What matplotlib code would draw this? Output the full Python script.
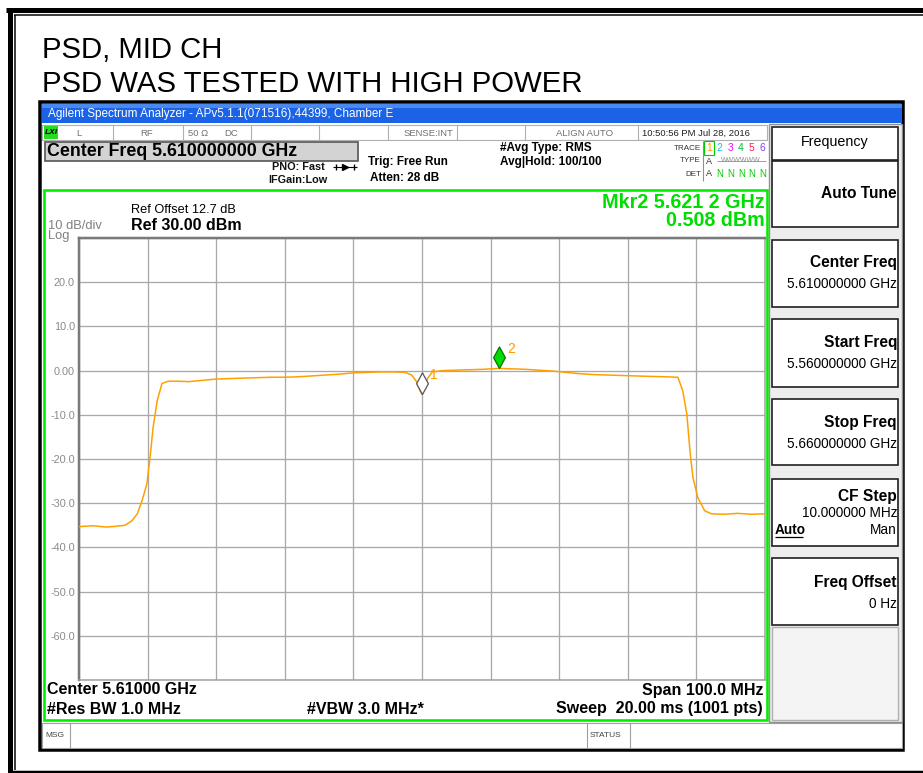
import matplotlib
matplotlib.use("Agg")
import matplotlib.pyplot as plt
from matplotlib.patches import Rectangle
from matplotlib.path import Path
from matplotlib.markers import MarkerStyle

# ---------------- data ----------------
freq_ghz = [5.5600, 5.5620, 5.5640, 5.5655, 5.5667, 5.5677, 5.5685, 5.5692, 5.5699,
            5.5704, 5.5708, 5.5714, 5.5721, 5.5730, 5.5745, 5.5760, 5.5780, 5.5800,
            5.5820, 5.5840, 5.5860, 5.5880, 5.5900, 5.5920, 5.5940, 5.5960, 5.5980,
            5.6000, 5.6020, 5.6040, 5.6060, 5.6075, 5.6085, 5.6092, 5.6097, 5.6100,
            5.6103, 5.6108, 5.6115, 5.6130, 5.6150, 5.6170, 5.6190, 5.6212, 5.6230,
            5.6250, 5.6270, 5.6290, 5.6310, 5.6330, 5.6350, 5.6370, 5.6390, 5.6410,
            5.6430, 5.6455, 5.6473, 5.6480, 5.6486, 5.6491, 5.6495, 5.6502, 5.6512,
            5.6522, 5.6540, 5.6560, 5.6580, 5.6600]
level_dbm = [-35.3, -35.1, -35.4, -35.2, -35.0, -34.0, -32.4, -29.4, -25.6,
             -19.0, -12.9, -6.8, -2.9, -2.4, -2.4, -2.5, -2.2, -1.9,
             -1.8, -1.7, -1.6, -1.5, -1.5, -1.4, -1.2, -1.0, -0.8,
             -0.5, -0.4, -0.3, -0.3, -0.4, -1.0, -2.5, -4.5, -5.4,
             -4.2, -1.8, -0.3, 0.0, 0.1, 0.2, 0.3, 0.5, 0.4,
             0.3, 0.1, -0.1, -0.4, -0.7, -0.9, -1.0, -1.1, -1.2,
             -1.3, -1.4, -1.5, -4.5, -9.8, -18.8, -24.2, -28.7, -31.7,
             -32.4, -32.5, -32.3, -32.5, -32.4]

marker_freq = [5.6100, 5.6212]
marker_level = [-5.4, 0.508]
marker_names = ["1", "2"]

y_ticks = [20, 10, 0, -10, -20, -30, -40, -50, -60]
y_tick_labels = ["20.0", "10.0", "0.00", "-10.0", "-20.0", "-30.0", "-40.0", "-50.0", "-60.0"]
x_grid = [5.56, 5.57, 5.58, 5.59, 5.60, 5.61, 5.62, 5.63, 5.64, 5.65, 5.66]
y_grid = [30, 20, 10, 0, -10, -20, -30, -40, -50, -60, -70]

softkeys = [("Auto Tune", ""), ("Center Freq", "5.610000000 GHz"),
            ("Start Freq", "5.560000000 GHz"), ("Stop Freq", "5.660000000 GHz"),
            ("CF Step", "10.000000 MHz"), ("Freq Offset", "0 Hz")]

# ---------------- figure ----------------
W, H = 923, 773
fig = plt.figure(figsize=(W / 100, H / 100), dpi=100)
plt.rcParams['font.family'] = ['Liberation Sans', 'DejaVu Sans']

bg = fig.add_axes([0, 0, 1, 1])
bg.set_xlim(0, W)
bg.set_ylim(H, 0)
bg.axis("off")

PT = 0.72  # px -> pt for linewidths


def T(x, y, s, size, weight="normal", ha="left", va="center", color="black", **kw):
    return bg.text(x, y, s, fontsize=size, fontweight=weight, ha=ha, va=va, color=color, **kw)


def R(x0, y0, x1, y1, fc="none", ec="black", lw=1.0, z=1):
    bg.add_patch(Rectangle((x0, y0), x1 - x0, y1 - y0, facecolor=fc, edgecolor=ec,
                           linewidth=lw, zorder=z))


def L(xs, ys, color="black", lw=1.0, z=2):
    bg.plot(xs, ys, color=color, lw=lw, zorder=z, solid_capstyle="butt")


# outer frame
L([6, W], [10, 10], lw=5 * PT)
L([10, 10], [8, 772], lw=5 * PT)
L([14, W], [15, 15], lw=1.5 * PT)
L([15, 15], [15, 770], lw=1.5 * PT)
L([8, W], [771.5, 771.5], lw=2.5 * PT)

# page title
T(42, 50, "PSD, MID CH", 21.2)
T(42, 84, "PSD WAS TESTED WITH HIGH POWER", 21.2)

# screenshot body
R(40, 102, 903, 750, fc="white", ec="black", lw=3.5 * PT, z=1)
# title bar
R(42, 104, 902, 123, fc="#1a62e6", ec="none", z=2)
R(42, 104, 902, 108, fc="#4a8af0", ec="none", z=2)
T(48, 114, "Agilent Spectrum Analyzer - APv5.1.1(071516),44399, Chamber E", 8.5,
  color="white", zorder=3)

# status row
R(42, 125, 767, 140, fc="white", ec="#b0b0b0", lw=0.8, z=2)
R(44, 126, 58, 139, fc="#22dd22", ec="none", z=3)
T(51, 133, "LXI", 6, weight="bold", ha="center", style="italic", zorder=4)
for xs in [113, 183, 251, 319, 388, 457, 525, 638]:
    L([xs, xs], [125, 140], color="#b0b0b0", lw=0.8, z=3)
for x, s, ha in [(79, "L", "center"), (147, "RF", "center"), (188, "50 \u03a9", "left"),
                 (224, "DC", "left"), (428, "SENSE:INT", "center"), (585, "ALIGN AUTO", "center"),
                 (642, "10:50:56 PM Jul 28, 2016", "left")]:
    T(x, 133, s, 6.8, ha=ha, color="#707070" if x < 640 else "#202020", zorder=4)

# center freq box
R(45, 142, 358, 161, fc="#d3d3d3", ec="#555555", lw=1.2, z=2)
T(47, 151.5, "Center Freq 5.610000000 GHz", 12.8, weight="bold", zorder=3)

T(325, 167, "PNO: Fast", 7.8, weight="bold", ha="right", color="#111111")
L([333, 357], [167, 167], lw=0.8, z=3)
bg.plot([345], [167], marker=">", ms=4, color="black", zorder=3)
bg.plot([336, 354], [167, 167], marker="|", ms=4, ls="none", color="black", zorder=3)
T(268, 180, "IFGain:Low", 7.8, weight="bold", color="#111111")
T(368, 162, "Trig: Free Run", 8.5, weight="bold")
T(370, 178, "Atten: 28 dB", 8.5, weight="bold")
T(500, 148, "#Avg Type: RMS", 8.5, weight="bold")
T(500, 162, "Avg|Hold: 100/100", 8.5, weight="bold")

# trace indicator
T(701, 148, "TRACE", 5.8, ha="right", color="#333333")
T(701, 161, "TYPE", 5.8, ha="right", color="#333333")
T(701, 174, "DET", 5.8, ha="right", color="#333333")
L([703, 703], [141, 181], color="#909090", lw=0.8, z=3)
trace_cols = ["#ff9900", "#00c8ff", "#ff00ff", "#00c040", "#ff2060", "#8040ff"]
for i, c in enumerate(trace_cols):
    T(709 + i * 10.6, 148, str(i + 1), 7.5, ha="center", color=c)
R(704, 141, 714, 155, ec="#00cc00", lw=0.8, z=3)
T(709, 161, "A", 6.5, ha="center", color="#333333")
T(741, 161, "WWWWWW", 5.0, ha="center", color="#909090")
L([717, 766], [161, 161], color="#909090", lw=0.6, z=4)
T(709, 174, "A", 6.5, ha="center", color="#333333")
for i in range(5):
    T(720 + i * 10.6, 174, "N", 7, ha="center", color="#00cc00")

# graph frame
R(44, 190, 767, 720, fc="white", ec="#00ee00", lw=2.6 * PT, z=2)
T(765, 202, "Mkr2 5.621 2 GHz", 14.2, weight="bold", ha="right", color="#00dd00", zorder=4)
T(765, 220, "0.508 dBm", 14.2, weight="bold", ha="right", color="#00dd00", zorder=4)
T(131, 210, "Ref Offset 12.7 dB", 9.2, zorder=4)
T(131, 225, "Ref 30.00 dBm", 11.5, weight="bold", zorder=4)
T(48, 226, "10 dB/div", 9.3, color="#808080", zorder=4)
T(48, 236.5, "Log", 9.3, color="#808080", zorder=4)

FS = 11.5
T(47, 690, "Center 5.61000 GHz", FS, weight="bold", zorder=4)
T(763, 690, "Span 100.0 MHz", FS, weight="bold", ha="right", zorder=4)
T(47, 709, "#Res BW 1.0 MHz", FS, weight="bold", zorder=4)
T(307, 709, "#VBW 3.0 MHz*", FS, weight="bold", zorder=4)
T(763, 709, "Sweep  20.00 ms (1001 pts)", FS, weight="bold", ha="right", zorder=4)

# msg row
R(42, 723, 902, 748, fc="white", ec="#a0a0a0", lw=0.8, z=2)
for xs in [70, 587, 630]:
    L([xs, xs], [723, 748], color="#a0a0a0", lw=0.8, z=3)
T(45, 735.5, "MSG", 6, color="#444444", zorder=4)
T(590, 735.5, "STATUS", 6, color="#444444", zorder=4)

# softkey panel
R(769, 124, 902, 722, fc="#ededed", ec="#909090", lw=1.0, z=2)
R(772, 127, 898, 160, fc="white", ec="#202020", lw=1.2, z=3)
T(835, 142, "Frequency", 10.3, ha="center", zorder=4)
boxes = [(161, 227), (240, 307), (319, 387), (399, 465), (479, 546), (558, 625)]
title_y = [194, 263, 343, 422, 496, 582]
value_y = [None, 284, 364, 444, 513, 604]
for (y0, y1), (title, val), ty, vy in zip(boxes, softkeys, title_y, value_y):
    R(772, y0, 898, y1, fc="white", ec="#202020", lw=1.2, z=3)
    T(897, ty, title, 11.2, weight="bold", ha="right", zorder=4)
    if val:
        T(897, vy, val, 9.8, ha="right", zorder=4)
T(775, 530, "Auto", 9.8, weight="bold", zorder=4)
L([775, 803], [537, 537], lw=0.9, z=4)
T(897, 530, "Man", 9.8, ha="right", zorder=4)
R(772, 627, 898, 720, fc="#f4f4f4", ec="#b0b0b0", lw=1.0, z=3)

# ---------------- spectrum axes ----------------
x0, x1, y0p, y1p = 79, 765, 238, 680
ax = fig.add_axes([x0 / W, 1 - y1p / H, (x1 - x0) / W, (y1p - y0p) / H], zorder=5)
ax.set_facecolor("white")
ax.set_xlim(5.56, 5.66)
ax.set_ylim(-70, 30)
ax.set_xticks(x_grid)
ax.set_xticklabels([])
ax.set_yticks(y_ticks)
ax.set_yticklabels(y_tick_labels)
ax.tick_params(length=0, labelsize=7.8, labelcolor="#8a8a8a", pad=3)
for xv in x_grid:
    ax.axvline(xv, color="#a8a8a8", lw=1.3 * PT, zorder=1)
for yv in y_grid:
    ax.axhline(yv, color="#a8a8a8", lw=1.3 * PT, zorder=1)
for side in ["left", "top"]:
    ax.spines[side].set_color("#7a7a7a")
    ax.spines[side].set_linewidth(2.5 * PT)
for side in ["right", "bottom"]:
    ax.spines[side].set_color("#a0a0a0")
    ax.spines[side].set_linewidth(1.5 * PT)

ax.plot(freq_ghz, level_dbm, color="#ffa000", lw=1.1, zorder=3)

diamond = Path([(0, 0), (0.55, 1), (0, 2), (-0.55, 1), (0, 0)],
               [Path.MOVETO, Path.LINETO, Path.LINETO, Path.LINETO, Path.CLOSEPOLY])
mk = MarkerStyle(diamond)
styles = [("white", "#555555"), ("#00dd00", "#007700")]
for f, lv, name, (fc, ec) in zip(marker_freq, marker_level, marker_names, styles):
    ax.plot([f], [lv], marker=mk, ms=31, markerfacecolor=fc, markeredgecolor=ec,
            markeredgewidth=0.9, ls="none", zorder=4, clip_on=False)
    ax.annotate(name, (f, lv), xytext=(6, 14), textcoords="offset points",
                fontsize=10, color="#ff9900", ha="left", va="center", zorder=5)

fig.savefig("out.png", dpi=100)
